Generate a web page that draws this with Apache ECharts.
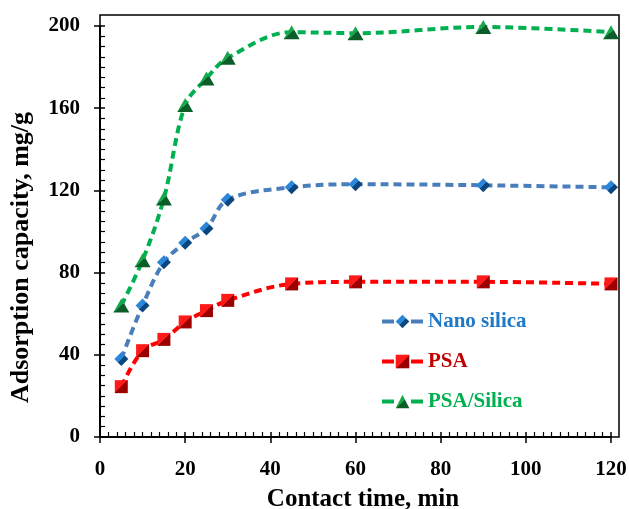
<!DOCTYPE html>
<html>
<head>
<meta charset="utf-8">
<script src="https://cdn.jsdelivr.net/npm/echarts@6/dist/echarts.min.js"></script>
<style>
  html, body { margin: 0; padding: 0; background: #fff; }
  #chart { width: 629px; height: 509px; }
</style>
</head>
<body>
<div id="chart"></div>
<script>
// contact time (min)
const times = [5, 10, 15, 20, 25, 30, 45, 60, 90, 120];
// adsorption capacity (mg/g)
const nanoSilica = [38, 64, 85, 94.5, 101.5, 115.5, 121.5, 123, 122.5, 121.5];
const psa = [24.5, 42, 47.5, 56, 61.5, 66.5, 74.5, 75.5, 75.5, 74.5];
const psaSilica = [64, 86, 116, 161.5, 174.5, 184.5, 197, 196.5, 199.5, 197];

const seriesNames = ['Nano silica', 'PSA', 'PSA/Silica'];
const xTicks = [0, 20, 40, 60, 80, 100, 120];
const yTicks = [0, 40, 80, 120, 160, 200];

const font = 'Liberation Serif, Times New Roman, serif';

function pairs(vals) {
    return times.map((t, i) => [t, vals[i]]);
}

// two-tone fill to mimic the bevelled excel markers
function facet(light, dark) {
    return new echarts.graphic.LinearGradient(0, 0, 1, 1, [
        { offset: 0, color: light },
        { offset: 0.5, color: light },
        { offset: 0.5, color: dark },
        { offset: 1, color: dark }
    ]);
}

const chart = echarts.init(document.getElementById('chart'));

function makeSeries(name, vals, lineColor, symbol, size, light, dark) {
    return {
        name: name,
        type: 'line',
        xAxisIndex: 0,
        yAxisIndex: 0,
        data: pairs(vals),
        smooth: 0.35,
        symbol: symbol,
        symbolSize: size,
        showAllSymbol: true,
        lineStyle: { color: lineColor, width: 4, type: [8, 5] },
        itemStyle: { color: facet(light, dark), borderWidth: 0 },
        emphasis: { disabled: true },
        z: 3
    };
}

// common settings for the main axes
const labelStyle = { fontFamily: font, fontWeight: 'bold', fontSize: 21, color: '#000' };
const titleStyle = { fontFamily: font, fontWeight: 'bold', color: '#000' };
const blackLine = { color: '#000', width: 2 };

// the major ticks cross the axis line: inner half on the main axis, outer half on a twin axis
function twin(position, min, max, interval) {
    return {
        type: 'value', gridIndex: 0, position: position,
        min: min, max: max, interval: interval,
        axisLine: { show: false },
        axisTick: { show: true, inside: false, length: 6, lineStyle: { color: '#000', width: 1.5 } },
        axisLabel: { show: false },
        splitLine: { show: false }
    };
}

chart.setOption({
    animation: false,
    textStyle: { fontFamily: font },
    grid: [
        { left: 100, right: 18, top: 26, bottom: 72, outerBoundsMode: 'none', containLabel: false },
        // outer frame of the plot box
        { left: 100, right: 10, top: 15, bottom: 72, outerBoundsMode: 'none', show: true,
          borderColor: '#000', borderWidth: 1.5, backgroundColor: 'transparent' }
    ],
    legend: {
        orient: 'vertical',
        left: 380,
        top: 311,
        padding: 0,
        itemWidth: 41,
        itemHeight: 17,
        itemGap: 19,
        lineStyle: { width: 4, type: [12, 17] },
        textStyle: { fontFamily: font, fontWeight: 'bold', fontSize: 21 },
        data: [
            { name: seriesNames[0], textStyle: { color: '#1f78c8' } },
            { name: seriesNames[1], textStyle: { color: '#c00000' } },
            { name: seriesNames[2], textStyle: { color: '#00b050' } }
        ]
    },
    xAxis: [{
        type: 'value',
        gridIndex: 0,
        position: 'bottom',
        min: 0,
        max: 120,
        interval: 20,
        name: 'Contact time, min',
        nameLocation: 'middle',
        nameGap: 50,
        nameTextStyle: Object.assign({ fontSize: 25, padding: [0, 0, 0, 15] }, titleStyle),
        axisLine: { show: true, lineStyle: blackLine },
        axisTick: { show: true, inside: true, length: 5, lineStyle: { color: '#000', width: 1.5 } },
        minorTick: { show: true, splitNumber: 10, length: 5, lineStyle: { color: '#000', width: 1.2 } },
        axisLabel: Object.assign({
            margin: 22,
            formatter: v => xTicks.includes(v) ? String(v) : ''
        }, labelStyle),
        splitLine: { show: false }
    }, {
        type: 'value', gridIndex: 1, min: 0, max: 1, show: false
    }, twin('bottom', 0, 120, 20)],
    yAxis: [{
        type: 'value',
        gridIndex: 0,
        position: 'left',
        min: 0,
        max: 200,
        interval: 40,
        name: 'Adsorption capacity, mg/g',
        nameLocation: 'middle',
        nameGap: 66,
        nameTextStyle: Object.assign({ fontSize: 26, padding: [0, 52, 0, 0] }, titleStyle),
        axisLine: { show: true, lineStyle: blackLine },
        axisTick: { show: true, inside: true, length: 5, lineStyle: { color: '#000', width: 1.5 } },
        minorTick: { show: true, splitNumber: 8, length: 5, lineStyle: { color: '#000', width: 1.2 } },
        axisLabel: Object.assign({
            margin: 20,
            formatter: v => yTicks.includes(v) ? String(v) : ''
        }, labelStyle),
        splitLine: { show: false }
    }, {
        type: 'value', gridIndex: 1, min: 0, max: 1, show: false
    }, twin('left', 0, 200, 40)],
    series: [
        makeSeries(seriesNames[0], nanoSilica, '#4a7ebb', 'diamond', 14, '#2a86d8', '#0b477f'),
        makeSeries(seriesNames[1], psa, '#ff0000', 'rect', 13, '#ff1a1a', '#9b0000'),
        makeSeries(seriesNames[2], psaSilica, '#00b050', 'triangle', [16, 14], '#1aa64a', '#0b5e2a')
    ]
});
</script>
</body>
</html>
